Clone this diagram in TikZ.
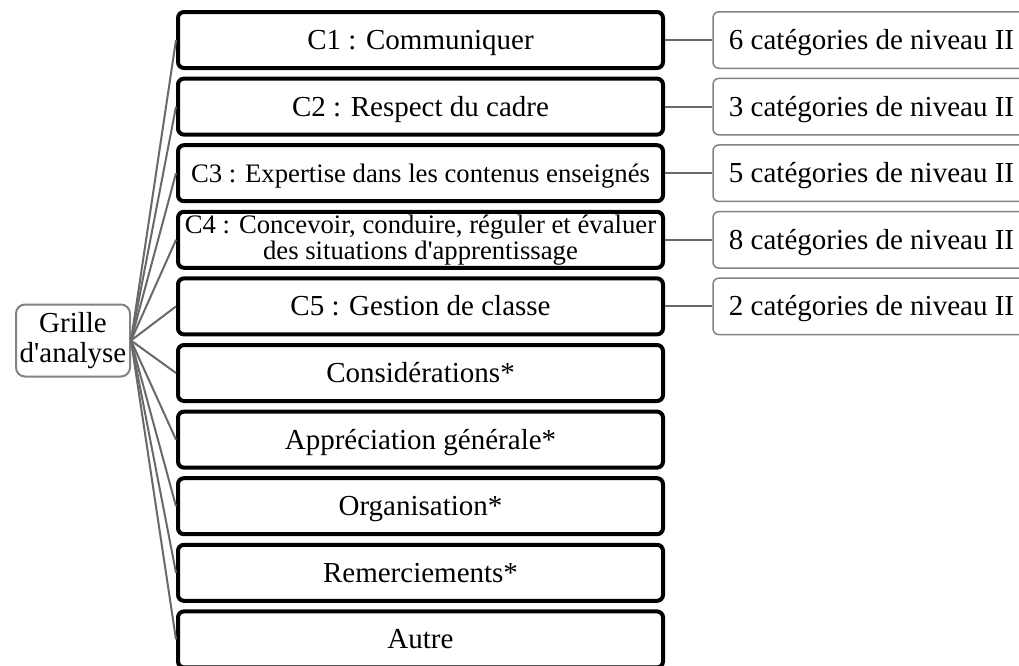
\documentclass[tikz,border=0pt]{standalone}
\usepackage{fontspec}
\setmainfont{Liberation Serif}[Ligatures=TeXOff]
\definecolor{conn}{RGB}{105,105,105}
\definecolor{subedge}{RGB}{130,130,130}
\begin{document}
\begin{tikzpicture}[x=1pt,y=-1pt,
  mainbox/.style={draw=black, line width=4pt, rounded corners=6pt, fill=white,
    minimum width=485pt, minimum height=56pt, inner sep=0pt,
    font=\fontsize{29}{30}\selectfont},
  oneline/.style={text height=19pt, text depth=0pt},
  smallfont/.style={font=\fontsize{26.7}{26}\selectfont, align=center},
  subbox/.style={draw=subedge, line width=1.5pt, rounded corners=6pt, fill=white,
    minimum width=317pt, minimum height=56.5pt, inner sep=0pt,
    text height=19pt, text depth=0pt,
    font=\fontsize{29}{30}\selectfont},
  rootbox/.style={draw=subedge, line width=2pt, rounded corners=9pt, fill=white,
    minimum width=114pt, minimum height=72pt, inner sep=0pt, align=center,
    font=\fontsize{29}{30}\selectfont},
  link/.style={draw=conn, line width=2pt}]
\useasboundingbox (0,0) rectangle (1019,665);
\clip (0,0) rectangle (1019,665);
\fill[white] (0,0) rectangle (1019,665);

\node[rootbox] (g) at (73,340.5) {Grille\\d'analyse};

\node[mainbox, oneline] (b1) at (420.5,40) {C1 : Communiquer};
\node[mainbox, oneline] (b2) at (420.5,106.6) {C2 : Respect du cadre};
\node[mainbox, oneline, smallfont] (b3) at (420.5,173.2) {C3 : Expertise dans les contenus enseignés};
\node[mainbox, smallfont] (b4) at (420.5,239.8) {C4 : Concevoir, conduire, réguler et évaluer\\des situations d'apprentissage};
\node[mainbox, oneline] (b5) at (420.5,306.4) {C5 : Gestion de classe};
\node[mainbox, oneline] (b6) at (420.5,373) {Considérations*};
\node[mainbox, oneline] (b7) at (420.5,439.6) {Appréciation générale*};
\node[mainbox, oneline] (b8) at (420.5,506.2) {Organisation*};
\node[mainbox, oneline] (b9) at (420.5,572.8) {Remerciements*};
\node[mainbox, oneline] (b10) at (420.5,639.4) {Autre};

\node[subbox] (s1) at (871.5,40) {6 catégories de niveau II};
\node[subbox] (s2) at (871.5,106.6) {3 catégories de niveau II};
\node[subbox] (s3) at (871.5,173.2) {5 catégories de niveau II};
\node[subbox] (s4) at (871.5,239.8) {8 catégories de niveau II};
\node[subbox] (s5) at (871.5,306.4) {2 catégories de niveau II};

\foreach \i in {1,...,10} { \draw[link] (g.east) -- (b\i.west); }
\foreach \i in {1,...,5} { \draw[link] (b\i.east) -- (s\i.west); }
\end{tikzpicture}
\end{document}
